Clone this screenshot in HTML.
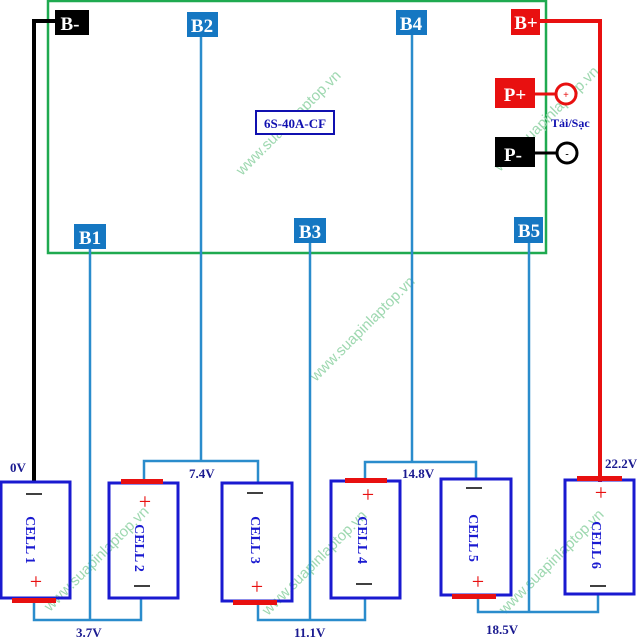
<!DOCTYPE html>
<html><head><style>body{margin:0;background:#fff}svg{display:block}</style></head><body>
<svg width="640" height="640" viewBox="0 0 640 640" xmlns="http://www.w3.org/2000/svg" font-family="Liberation Serif, serif" font-weight="bold">
<rect x="48" y="1" width="498" height="252" fill="none" stroke="#1faa50" stroke-width="2.5"/>
<!-- watermarks -->
<g font-size="15" fill="#9ed8b0" font-weight="normal" font-family="Liberation Sans, sans-serif">
<text transform="translate(242,176) rotate(-45)">www.suapinlaptop.vn</text>
<text transform="translate(316,382) rotate(-45)">www.suapinlaptop.vn</text>
<text transform="translate(500,172) rotate(-45)">www.suapinlaptop.vn</text>
<text transform="translate(50,612) rotate(-45)">www.suapinlaptop.vn</text>
<text transform="translate(268,616) rotate(-45)">www.suapinlaptop.vn</text>
<text transform="translate(505,615) rotate(-45)">www.suapinlaptop.vn</text>
</g>
<polyline points="56,21 34,21 34,482" fill="none" stroke="#000" stroke-width="4"/>
<polyline points="540,21 600,21 600,482" fill="none" stroke="#e81010" stroke-width="4"/>
<g stroke="#2a8ccc" stroke-width="2.5" fill="none">
<polyline points="34,598 34,620 141,620 141,598"/>
<line x1="90" y1="249" x2="90" y2="620"/>
<polyline points="144,482 144,461 258,461 258,483"/>
<line x1="201" y1="37" x2="201" y2="461"/>
<polyline points="258,601 258,620 365,620 365,598"/>
<line x1="310" y1="243" x2="310" y2="620"/>
<polyline points="365,481 365,462 476,462 476,479"/>
<line x1="412" y1="35" x2="412" y2="462"/>
<polyline points="478,595 478,612 598,612 598,594"/>
<line x1="529" y1="243" x2="529" y2="612"/>
</g>
<g font-size="19" text-anchor="middle" fill="#fff">
<rect x="55" y="10" width="34" height="25" fill="#000"/><text x="70" y="30">B-</text>
<rect x="187" y="12" width="31" height="25" fill="#1577c2"/><text x="202" y="32">B2</text>
<rect x="396" y="10" width="31" height="25" fill="#1577c2"/><text x="411" y="30">B4</text>
<rect x="511" y="9" width="29" height="26" fill="#e81010"/><text x="526" y="29">B+</text>
<rect x="74" y="224" width="32" height="25" fill="#1577c2"/><text x="90" y="244">B1</text>
<rect x="294" y="218" width="32" height="25" fill="#1577c2"/><text x="310" y="238">B3</text>
<rect x="514" y="217" width="29" height="26" fill="#1577c2"/><text x="529" y="237">B5</text>
<rect x="495" y="78" width="40" height="30" fill="#e81010"/><text x="515" y="101">P+</text>
<rect x="495" y="137" width="40" height="30" fill="#000"/><text x="513" y="161">P-</text>
</g>
<rect x="256" y="111" width="78" height="23" fill="#fff" stroke="#1010b0" stroke-width="2"/>
<text x="295" y="128" font-size="13" fill="#1010b0" text-anchor="middle">6S-40A-CF</text>
<line x1="535" y1="94" x2="556" y2="94" stroke="#e81010" stroke-width="3"/>
<circle cx="566" cy="94" r="10" fill="#fff" stroke="#e81010" stroke-width="3"/>
<text x="566" y="98" font-size="10" fill="#e81010" text-anchor="middle">+</text>
<line x1="535" y1="153" x2="556" y2="153" stroke="#000" stroke-width="3"/>
<circle cx="567" cy="153" r="10" fill="#fff" stroke="#000" stroke-width="3"/>
<text x="567" y="157" font-size="10" fill="#000" text-anchor="middle">-</text>
<text x="551" y="127" font-size="12" fill="#1010b0">Tải/Sạc</text>
<g fill="#fff" fill-opacity="0" stroke="#1a1ad0" stroke-width="3">
<rect x="1" y="482" width="69" height="116"/>
<rect x="109" y="483" width="69" height="115"/>
<rect x="222" y="483" width="70" height="118"/>
<rect x="331" y="481" width="69" height="117"/>
<rect x="441" y="479" width="70" height="116"/>
<rect x="565" y="480" width="69" height="114"/>
</g>
<g fill="#e81010">
<rect x="12" y="598" width="44" height="5"/>
<rect x="121" y="479" width="42" height="5"/>
<rect x="233" y="600" width="44" height="5"/>
<rect x="345" y="478" width="42" height="5"/>
<rect x="452" y="594" width="44" height="5"/>
<rect x="577" y="476" width="45" height="5"/>
</g>
<g stroke="#000" stroke-width="1.5">
<line x1="26" y1="494" x2="42" y2="494"/>
<line x1="134" y1="586" x2="150" y2="586"/>
<line x1="247" y1="493" x2="263" y2="493"/>
<line x1="356" y1="584" x2="372" y2="584"/>
<line x1="466" y1="488" x2="482" y2="488"/>
<line x1="590" y1="586" x2="606" y2="586"/>
</g>
<g font-size="22" fill="#e81010" text-anchor="middle" font-weight="normal">
<text x="36" y="589">+</text>
<text x="145" y="509">+</text>
<text x="257" y="594">+</text>
<text x="368" y="502">+</text>
<text x="478" y="589">+</text>
<text x="601" y="500">+</text>
</g>
<g font-size="14" fill="#1a1ad0" text-anchor="middle">
<text transform="translate(31,540) rotate(90)" y="5">CELL 1</text>
<text transform="translate(140,548) rotate(90)" y="5">CELL 2</text>
<text transform="translate(256,540) rotate(90)" y="5">CELL 3</text>
<text transform="translate(363,540) rotate(90)" y="5">CELL 4</text>
<text transform="translate(474,538) rotate(90)" y="5">CELL 5</text>
<text transform="translate(597,545) rotate(90)" y="5">CELL 6</text>
</g>
<g font-size="13" fill="#1a1a90">
<text x="10" y="472">0V</text>
<text x="189" y="478">7.4V</text>
<text x="76" y="637">3.7V</text>
<text x="294" y="637">11.1V</text>
<text x="402" y="478">14.8V</text>
<text x="486" y="634">18.5V</text>
<text x="605" y="468">22.2V</text>
</g>
</svg>
</body></html>
